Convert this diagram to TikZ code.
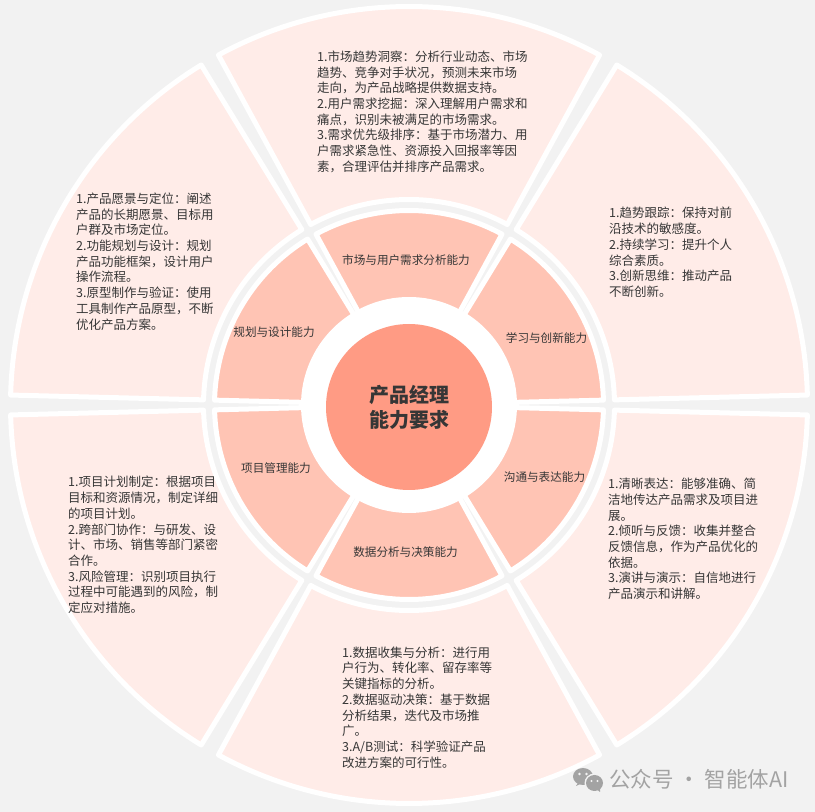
\documentclass[tikz,border=0pt]{standalone}
\usepackage{fontspec}
\setmainfont{Noto Sans CJK SC}
\usepackage{xcolor}
\usetikzlibrary{positioning}

\definecolor{bggray}{HTML}{F2F2F2}
\definecolor{outerpink}{HTML}{FFECE8}
\definecolor{innerpink}{HTML}{FFC4B4}
\definecolor{corepink}{HTML}{FF9B84}
\definecolor{textgray}{HTML}{363636}
\definecolor{markgray}{HTML}{A3A3A3}

\begin{document}
\begin{tikzpicture}[x=1pt, y=1pt,
    outerseg/.style={fill=outerpink, draw=white, line width=5pt, line join=round},
    innerseg/.style={fill=innerpink, draw=white, line width=5pt, line join=round},
    desc/.style={anchor=west, align=left, inner sep=0pt, text=textgray, font=\fontsize{12.5}{15.7}\selectfont},
    skill/.style={inner sep=0pt, text=textgray, font=\fontsize{11.6}{14}\selectfont},
    core/.style={circle, fill=corepink, minimum size=166pt, inner sep=0pt, align=center, text=textgray, font=\fontsize{20}{25}\selectfont\bfseries}
]
    % Background
    \fill[bggray] (0,0) rectangle (815,812);
    \useasboundingbox (0,0) rectangle (815,812);

    \begin{scope}[shift={(409,407)}]
        % Outer and inner rings
        \foreach \a in {0,60,...,300} {
            \draw[outerseg] (\a+1.43:398.5) arc[start angle=\a+1.43, end angle=\a+58.57, radius=398.5]
                -- (\a+58.57:205.5) arc[start angle=\a+58.57, end angle=\a+1.43, radius=205.5] -- cycle;
            \draw[innerseg] (\a+1.43:194.5) arc[start angle=\a+1.43, end angle=\a+58.57, radius=194.5]
                -- (\a+58.57:100) arc[start angle=\a+58.57, end angle=\a+1.43, radius=100] -- cycle;
        }
        \fill[white] (0,0) circle[radius=108];

        % Central circle
        \node[core] (core) at (0,-2) {产品经理\\能力要求};

        % Skill labels
        \node[skill] (market) at (-3,145) {市场与用户需求分析能力};
        \node[skill] (learn) at (137.5,67) {学习与创新能力};
        \node[skill] (talk) at (135.5,-72) {沟通与表达能力};
        \node[skill] (data) at (-3.5,-147) {数据分析与决策能力};
        \node[skill] (project) at (-133,-63) {项目管理能力};
        \node[skill] (plan) at (-135,73) {规划与设计能力};
    \end{scope}

    % Descriptions
    \node[desc] (marketText) at (317,700.3) {1.市场趋势洞察：分析行业动态、市场\\趋势、竞争对手状况，预测未来市场\\走向，为产品战略提供数据支持。\\2.用户需求挖掘：深入理解用户需求和\\痛点，识别未被满足的市场需求。\\3.需求优先级排序：基于市场潜力、用\\户需求紧急性、资源投入回报率等因\\素，合理评估并排序产品需求。};
    \node[desc] (planText) at (76,550.5) {1.产品愿景与定位：阐述\\产品的长期愿景、目标用\\户群及市场定位。\\2.功能规划与设计：规划\\产品功能框架，设计用户\\操作流程。\\3.原型制作与验证：使用\\工具制作产品原型，不断\\优化产品方案。};
    \node[desc] (learnText) at (609,559.5) {1.趋势跟踪：保持对前\\沿技术的敏感度。\\2.持续学习：提升个人\\综合素质。\\3.创新思维：推动产品\\不断创新。};
    \node[desc] (projectText) at (68,267) {1.项目计划制定：根据项目\\目标和资源情况，制定详细\\的项目计划。\\2.跨部门协作：与研发、设\\计、市场、销售等部门紧密\\合作。\\3.风险管理：识别项目执行\\过程中可能遇到的风险，制\\定应对措施。};
    \node[desc] (talkText) at (608,273) {1.清晰表达：能够准确、简\\洁地传达产品需求及项目进\\展。\\2.倾听与反馈：收集并整合\\反馈信息，作为产品优化的\\依据。\\3.演讲与演示：自信地进行\\产品演示和讲解。};
    \node[desc] (dataText) at (342,104.5) {1.数据收集与分析：进行用\\户行为、转化率、留存率等\\关键指标的分析。\\2.数据驱动决策：基于数据\\分析结果，迭代及市场推\\广。\\3.A/B测试：科学验证产品\\改进方案的可行性。};

    % Watermark
    \fill[markgray] (583,35.5) ellipse[x radius=10, y radius=8.5];
    \fill[markgray] (576,26) -- (579,31) -- (582,29) -- cycle;
    \fill[bggray] (594.5,29) ellipse[x radius=10, y radius=9.5];
    \fill[markgray] (594.5,29) ellipse[x radius=8.5, y radius=8];
    \fill[markgray] (600,20) -- (600,24) -- (597,22.5) -- cycle;
    \fill[bggray] (579.5,38) circle[radius=1.3] (586.5,38) circle[radius=1.3];
    \fill[bggray] (591.5,31) circle[radius=1.1] (597.5,31) circle[radius=1.1];
    \node[anchor=west, inner sep=0pt, text=markgray, font=\fontsize{21.5}{23}\selectfont] (mark) at (609,33) {公众号 · 智能体AI};
\end{tikzpicture}
\end{document}
